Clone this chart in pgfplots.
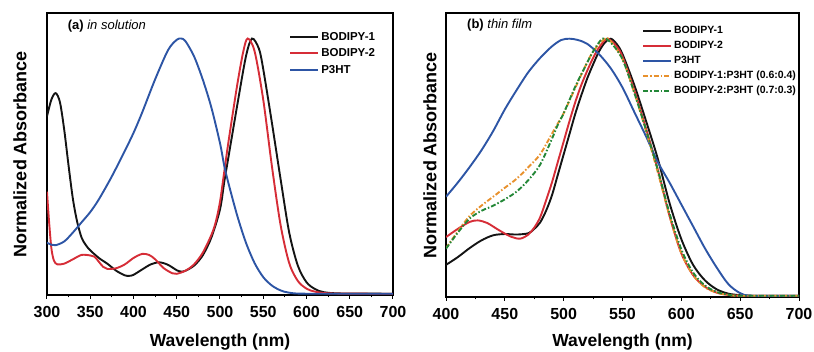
\documentclass[border=0pt]{standalone}
\usepackage{pgfplots}
\pgfplotsset{compat=1.18}
\usepackage{fontspec}
\setmainfont{Liberation Sans}
\definecolor{cblack}{RGB}{20,20,20}
\definecolor{cred}{RGB}{214,45,55}
\definecolor{cblue}{RGB}{45,85,165}
\definecolor{corange}{RGB}{232,145,45}
\definecolor{cgreen}{RGB}{35,135,55}
\pgfplotsset{
  myaxis/.style={
    scale only axis,
    anchor=south west,
    ymin=-0.005, ymax=1.1,
    ytick=\empty,
    xmax=700,
    minor x tick num=1,
    xtick pos=bottom,
    tick align=outside,
    major tick length=4pt,
    minor tick length=2.5pt,
    axis line style={line width=1.2pt},
    every tick/.style={line width=1pt, black},
    /pgf/number format/assume math mode=true,
    /pgf/number format/set thousands separator={},
    xticklabel style={font=\fontsize{16}{16}\selectfont\bfseries, yshift=-4pt},
    xlabel style={font=\fontsize{17.5}{17.5}\selectfont\bfseries},
    ylabel style={font=\fontsize{18}{18}\selectfont\bfseries},
    legend cell align=left,
    legend image code/.code={\draw[##1] (0pt,0pt) -- (28pt,0pt);},
    legend style={draw=none, fill=none, anchor=north west, inner sep=0pt, row sep=1.5pt},
    every axis plot post/.append style={line width=1.9pt, smooth},
    clip=true,
  }
}
\begin{document}
\begin{tikzpicture}
\path[use as bounding box] (-47pt,-57pt) rectangle (767pt,295pt);
\begin{axis}[myaxis, at={(0pt,0pt)}, width=346pt, height=282pt,
  xmin=300, xtick={300,350,...,700},
  xlabel={Wavelength (nm)}, ylabel={Normalized Absorbance},
  xlabel style={at={(axis description cs:0.5,0)}, anchor=center, yshift=-47pt},
  ylabel style={at={(axis description cs:0,0.5)}, anchor=center, yshift=27pt},
  legend style={at={(axis description cs:0.70,0.94)}, font=\fontsize{11.5}{12}\selectfont\bfseries, row sep=3pt},
]
\addplot[cblack] coordinates {
(300,0.695)(305,0.76)(310,0.786)(315,0.75)(320,0.64)(325,0.50)(330,0.37)(335,0.28)(340,0.22)(345,0.19)(350,0.17)(360,0.14)(370,0.117)(380,0.09)(390,0.072)(395,0.07)(400,0.074)(410,0.095)(420,0.115)(430,0.123)(440,0.113)(450,0.092)(455,0.087)(460,0.09)(470,0.11)(480,0.15)(490,0.22)(500,0.33)(505,0.44)(510,0.54)(520,0.74)(530,0.93)(537,1.0)(545,0.96)(550,0.88)(560,0.67)(570,0.45)(580,0.24)(590,0.11)(600,0.045)(610,0.018)(620,0.006)(640,0.001)(700,0)};
\addlegendentry{BODIPY-1}
\addplot[cred] coordinates {
(300,0.40)(302,0.30)(305,0.18)(308,0.13)(312,0.115)(320,0.118)(330,0.135)(340,0.152)(350,0.15)(355,0.145)(360,0.125)(365,0.105)(370,0.097)(380,0.10)(390,0.115)(400,0.14)(410,0.156)(418,0.152)(425,0.135)(435,0.10)(445,0.08)(450,0.078)(460,0.09)(470,0.115)(480,0.16)(490,0.23)(495,0.28)(500,0.36)(505,0.48)(510,0.60)(520,0.82)(527,0.95)(532,1.0)(540,0.95)(550,0.76)(560,0.50)(570,0.27)(580,0.12)(590,0.05)(600,0.02)(610,0.008)(630,0.001)(700,0)};
\addlegendentry{BODIPY-2}
\addplot[cblue] coordinates {
(300,0.20)(305,0.192)(310,0.19)(320,0.205)(330,0.24)(340,0.28)(350,0.32)(360,0.37)(375,0.46)(390,0.56)(400,0.63)(410,0.71)(425,0.84)(440,0.955)(450,0.995)(455,1.0)(460,0.99)(470,0.93)(480,0.84)(490,0.73)(500,0.59)(505,0.50)(510,0.43)(520,0.305)(530,0.20)(540,0.12)(550,0.065)(560,0.032)(570,0.013)(580,0.004)(600,0)(700,0)};
\addlegendentry{P3HT}
\node[anchor=west] at (rel axis cs:0.05,0.955) {\fontsize{13}{13}\selectfont\textbf{(a)} \textit{in solution}};
\end{axis}

\begin{axis}[myaxis, at={(399pt,-2pt)}, width=353pt, height=284pt,
  xmin=400, xtick={400,450,...,700},
  xlabel={Wavelength (nm)}, ylabel={Normalized Absorbance},
  xlabel style={at={(axis description cs:0.5,0)}, anchor=center, yshift=-45pt},
  ylabel style={at={(axis description cs:0,0.5)}, anchor=center, yshift=16pt},
  legend style={at={(axis description cs:0.555,0.96)}, font=\fontsize{10.5}{11}\selectfont\bfseries, row sep=2pt},
]
\addplot[cblack] coordinates {
(400,0.12)(410,0.15)(420,0.185)(430,0.215)(440,0.235)(450,0.24)(460,0.238)(470,0.243)(475,0.26)(480,0.285)(485,0.33)(490,0.39)(495,0.47)(500,0.55)(505,0.63)(510,0.71)(515,0.78)(520,0.845)(525,0.90)(530,0.95)(535,0.985)(540,1.0)(545,0.98)(550,0.94)(560,0.82)(570,0.68)(580,0.533)(590,0.36)(600,0.22)(610,0.12)(620,0.06)(630,0.025)(640,0.008)(650,0.002)(660,0)(700,0)};
\addlegendentry{BODIPY-1}
\addplot[cred] coordinates {
(400,0.228)(410,0.26)(420,0.287)(427,0.293)(435,0.283)(445,0.255)(455,0.23)(463,0.222)(470,0.238)(475,0.265)(480,0.305)(485,0.37)(490,0.44)(495,0.52)(500,0.60)(505,0.68)(510,0.755)(515,0.82)(520,0.875)(525,0.925)(530,0.965)(537,1.0)(545,0.97)(550,0.93)(560,0.80)(570,0.65)(580,0.49)(590,0.31)(600,0.165)(610,0.08)(620,0.035)(630,0.012)(640,0.003)(650,0)(700,0)};
\addlegendentry{BODIPY-2}
\addplot[cblue] coordinates {
(400,0.385)(410,0.44)(420,0.50)(430,0.565)(440,0.64)(450,0.725)(460,0.80)(470,0.87)(480,0.925)(490,0.97)(498,0.995)(505,1.0)(512,0.995)(520,0.98)(530,0.94)(540,0.885)(550,0.81)(560,0.715)(570,0.62)(580,0.52)(590,0.44)(600,0.355)(610,0.27)(620,0.185)(630,0.11)(640,0.045)(650,0.01)(660,0)(700,0)};
\addlegendentry{P3HT}
\addplot[corange, dash pattern=on 5pt off 2pt on 1.5pt off 2pt] coordinates {
(400,0.185)(410,0.25)(420,0.31)(430,0.35)(440,0.385)(450,0.42)(460,0.455)(470,0.50)(480,0.55)(490,0.63)(495,0.67)(500,0.71)(510,0.81)(517,0.88)(525,0.95)(535,1.0)(540,0.99)(550,0.92)(560,0.79)(570,0.64)(580,0.48)(590,0.31)(600,0.165)(610,0.08)(620,0.033)(630,0.012)(640,0.003)(650,0)(700,0)};
\addlegendentry{BODIPY-1:P3HT (0.6:0.4)}
\addplot[cgreen, dash pattern=on 5pt off 2pt on 1.5pt off 2pt] coordinates {
(400,0.183)(410,0.245)(420,0.30)(430,0.33)(440,0.35)(450,0.375)(460,0.405)(470,0.45)(480,0.51)(490,0.61)(495,0.665)(500,0.71)(510,0.815)(517,0.88)(525,0.95)(533,1.0)(540,0.985)(550,0.92)(560,0.79)(570,0.645)(580,0.49)(590,0.32)(600,0.18)(610,0.09)(620,0.04)(630,0.015)(640,0.004)(650,0)(700,0)};
\addlegendentry{BODIPY-2:P3HT (0.7:0.3)}
\node[anchor=west] at (rel axis cs:0.05,0.958) {\fontsize{13}{13}\selectfont\textbf{(b)} \textit{thin film}};
\end{axis}
\end{tikzpicture}
\end{document}
